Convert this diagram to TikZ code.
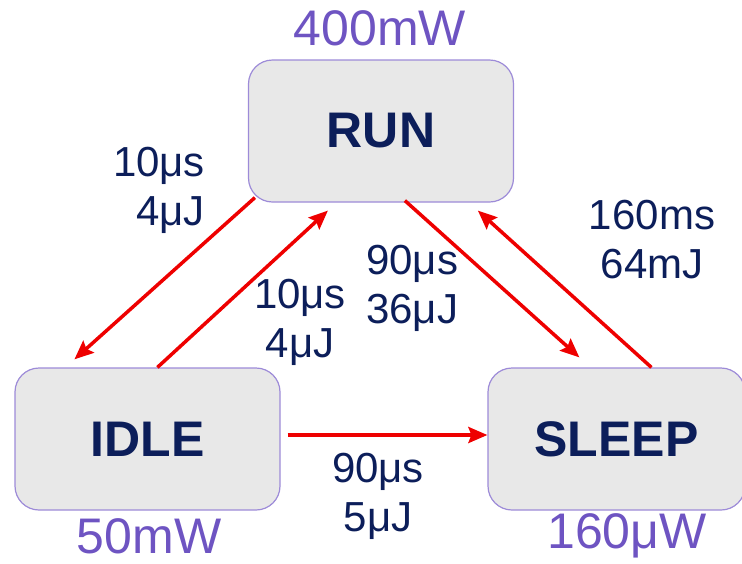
\documentclass[tikz,border=0pt]{standalone}
\usepackage{fontspec}
\setmainfont{Liberation Sans}
\usetikzlibrary{arrows.meta}
\definecolor{navy}{RGB}{12,30,90}
\definecolor{purp}{RGB}{110,84,194}
\definecolor{boxedge}{RGB}{157,139,216}
\definecolor{boxfill}{RGB}{232,232,232}
\definecolor{arr}{RGB}{238,0,0}
\begin{document}
\begin{tikzpicture}[x=1pt,y=-1pt,
  state/.style={draw=boxedge,fill=boxfill,line width=1.2pt,rounded corners=24pt,
    minimum width=265pt,minimum height=142pt,inner sep=0pt,text=navy,
    font=\fontsize{50}{60}\selectfont\bfseries},
  power/.style={text=purp,inner sep=0pt,font=\fontsize{50}{60}\selectfont},
  lbl/.style={text=navy,inner sep=0pt,font=\fontsize{42}{49}\selectfont},
  trans/.style={draw=arr,line width=3.5pt,-{Stealth[length=19pt,width=16pt,inset=3pt]}}]
\useasboundingbox (0,0) rectangle (742,563);
\node[state] (run) at (381,131) {RUN};
\node[state] (idle) at (147.5,439) {IDLE};
\node[state,minimum width=257pt] (sleep) at (616.5,439) {SLEEP};
\node[power] (prun) at (380,28) {400mW};
\node[power] (pidle) at (149,536) {50mW};
\node[power] (psleep) at (627,536) {160μW};
\node[lbl,align=right] (l1) at (159,190) {10μs\\4μJ};
\node[lbl,align=center] (l2) at (300,322) {10μs\\4μJ};
\node[lbl,align=left,anchor=west] (l3) at (366,288) {90μs\\36μJ};
\node[lbl,align=center] (l4) at (652,240) {160ms\\64mJ};
\node[lbl,align=center] (l5) at (378,496) {90μs\\5μJ};
\draw[trans] ([shift={(7,-5)}]run.south west) -- ([shift={(60,-8)}]idle.north west);
\draw[trans] ([shift={(143,0)}]idle.north west) -- ([shift={(80,8)}]run.south west);
\draw[trans] ([shift={(157,-2)}]run.south west) -- ([shift={(92,-10)}]sleep.north west);
\draw[trans] ([shift={(164,0)}]sleep.north west) -- ([shift={(230,8)}]run.south west);
\draw[trans] ([shift={(7,-4)}]idle.east) -- ([shift={(0,-4)}]sleep.west);
\end{tikzpicture}
\end{document}
